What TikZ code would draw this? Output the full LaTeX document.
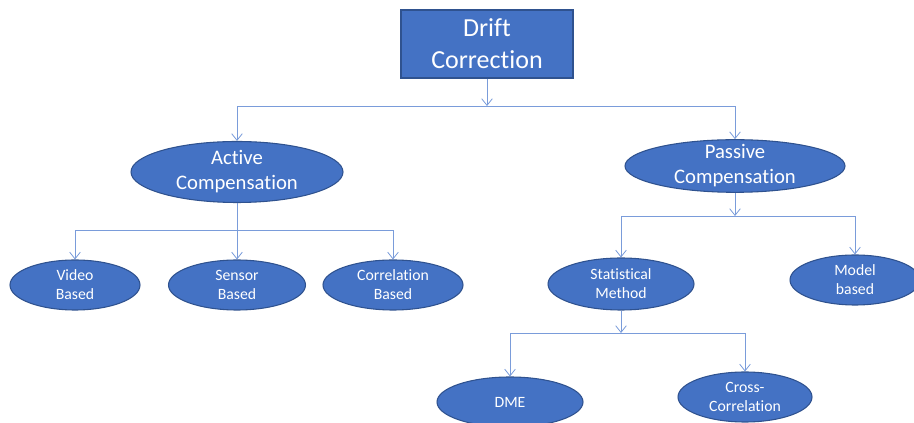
\documentclass[tikz,border=0pt]{standalone}
\usepackage{fontspec}
\setmainfont{Carlito}[Ligatures={NoCommon,NoRequired,NoContextual}]
\usepackage{xcolor}
\usetikzlibrary{arrows.meta,shapes.geometric}

\definecolor{boxblue}{HTML}{4472C4}
\definecolor{edgeblue}{HTML}{2F528F}
\definecolor{lineblue}{HTML}{7A9CDA}

\tikzset{
  topbox/.style={draw=edgeblue, line width=1pt, fill=boxblue, text=white, align=center,
    minimum width=129pt, minimum height=51pt, inner sep=0pt, font=\fontsize{19.5}{24}\selectfont},
  bigoval/.style={ellipse, draw=edgeblue, line width=0.8pt, fill=boxblue, text=white, align=center,
    inner sep=0pt, font=\fontsize{15.5}{18.75}\selectfont},
  smalloval/.style={ellipse, draw=edgeblue, line width=0.8pt, fill=boxblue, text=white, align=center,
    inner sep=0pt, minimum height=37.5pt, font=\fontsize{11.8}{14.2}\selectfont},
  conn/.style={draw=lineblue, line width=0.6pt, -{Straight Barb[length=5pt,width=8pt]}}
}

\begin{document}
\begin{tikzpicture}[x=0.75pt, y=-0.75pt]
\useasboundingbox (0,0) rectangle (914,423);

\node [topbox] (drift) at (487,44) {Drift\\Correction};

\node [bigoval, minimum width=159pt, minimum height=45.75pt] (active) at (237,172) {Active\\Compensation};
\node [bigoval, minimum width=165pt, minimum height=39pt, inner sep=-2pt] (passive) at (735,166) {Passive\\Compensation};

\node [smalloval, minimum width=97.5pt] (video) at (75,285) {Video\\Based};
\node [smalloval, minimum width=102.75pt] (sensor) at (237,285) {Sensor\\Based};
\node [smalloval, minimum width=105pt] (corr) at (393,285) {Correlation\\Based};

\node [smalloval, minimum width=109.5pt, minimum height=39pt] (stat) at (621,284) {Statistical\\Method};
\node [smalloval, minimum width=97.5pt] (model) at (855,280) {Model\\based};

\node [smalloval, minimum width=109.5pt] (dme) at (510,402) {DME};
\node [smalloval, minimum width=100.5pt] (xcorr) at (745,397) {Cross-\\Correlation};

\coordinate (j1) at (487,106);
\coordinate (j2) at (237,230);
\coordinate (j3) at (735,216);
\coordinate (j4) at (621,333);

\draw [conn] (drift) -- (j1);
\draw [conn] (j1) -| (active);
\draw [conn] (j1) -| (passive);

\draw [conn] (active) -- (sensor);
\draw [conn] (j2) -| (video);
\draw [conn] (j2) -| (corr);

\draw [conn] (passive) -- (j3);
\draw [conn] (j3) -| (stat);
\draw [conn] (j3) -| (model);

\draw [conn] (stat) -- (j4);
\draw [conn] (j4) -| (dme);
\draw [conn] (j4) -| (xcorr);
\end{tikzpicture}
\end{document}
